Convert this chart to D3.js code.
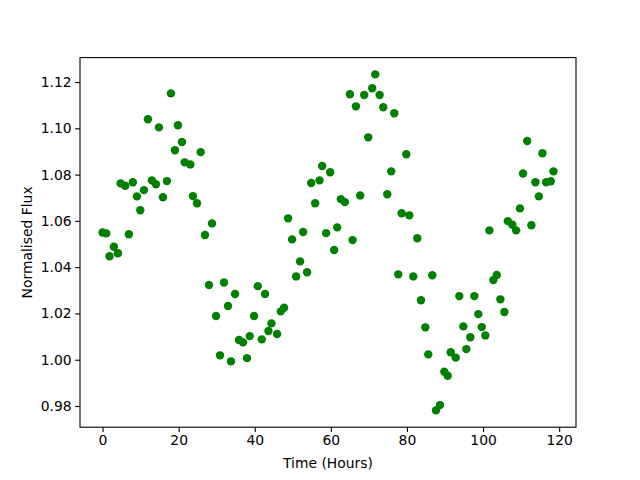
<!DOCTYPE html>
<html>
<head>
<meta charset="utf-8">
<script src="https://cdn.jsdelivr.net/npm/d3@7"></script>
<style>
  body { margin: 0; background: #fff; }
  text { font-family: "DejaVu Sans", sans-serif; }
</style>
</head>
<body>
<script>
// observation times (hours)
var times = [0, 0.97, 1.84, 2.97, 4.03, 4.74, 5.97, 6.92, 7.97, 9.03, 9.92, 10.87, 11.92, 12.97, 14.03, 14.82,
  15.87, 16.92, 17.97, 19.03, 19.82, 20.87, 21.58, 23.08, 23.76, 24.82, 25.79, 26.92, 27.97, 28.76, 29.82, 30.87,
  31.92, 32.97, 33.76, 34.82, 35.87, 36.92, 37.97, 38.68, 39.82, 40.79, 41.84, 42.71, 43.6, 44.39, 45.87, 46.84,
  47.71, 48.76, 49.82, 50.87, 51.92, 52.71, 53.76, 54.82, 55.87, 57.03, 57.71, 58.76, 59.82, 60.87, 61.66, 62.63,
  63.68, 65, 65.71, 66.58, 67.71, 68.76, 69.82, 70.87, 71.66, 72.82, 73.76, 74.82, 75.87, 76.66, 77.71, 78.6,
  79.82, 80.61, 81.66, 82.71, 83.68, 84.82, 85.6, 86.66, 87.63, 88.68, 89.82, 90.71, 91.5, 92.8, 93.76, 94.82,
  95.61, 96.66, 97.71, 98.76, 99.66, 100.61, 101.66, 102.7, 103.6, 104.55, 105.6, 106.5, 107.71, 108.68, 109.7,
  110.5, 111.6, 112.7, 113.76, 114.66, 115.6, 116.58, 117.8, 118.5];

// normalised flux
var flux = [1.0550, 1.0546, 1.0447, 1.0488, 1.0460, 1.0762, 1.0752, 1.0542, 1.0767, 1.0706, 1.0646, 1.0733, 1.1039, 1.0775, 1.0758, 1.1004,
  1.0702, 1.0772, 1.1151, 1.0905, 1.1013, 1.0941, 1.0853, 1.0844, 1.0707, 1.0676, 1.0897, 1.0539, 1.0323, 1.0589, 1.0189, 1.0019,
  1.0334, 1.0232, 0.9993, 1.0284, 1.0085, 1.0075, 1.0007, 1.0102, 1.0189, 1.0318, 1.0088, 1.0284, 1.0124, 1.0157, 1.0111, 1.0209,
  1.0225, 1.0611, 1.0520, 1.0360, 1.0425, 1.0552, 1.0378, 1.0764, 1.0676, 1.0775, 1.0837, 1.0547, 1.0810, 1.0474, 1.0572, 1.0694,
  1.0681, 1.1147, 1.0517, 1.1095, 1.0710, 1.1144, 1.0961, 1.1173, 1.1233, 1.1144, 1.1091, 1.0715, 1.0814, 1.1065, 1.0369, 1.0633,
  1.0888, 1.0624, 1.0360, 1.0525, 1.0257, 1.0140, 1.0023, 1.0365, 0.9781, 0.9804, 0.9948, 0.9931, 1.0032, 1.0009, 1.0275, 1.0144,
  1.0046, 1.0097, 1.0275, 1.0197, 1.0141, 1.0105, 1.0559, 1.0344, 1.0366, 1.0261, 1.0206, 1.0599, 1.0583, 1.0559, 1.0654,
  1.0805, 1.0945, 1.0581, 1.0767, 1.0706, 1.0892, 1.0767, 1.0771, 1.0814];

var xTicks = [0, 20, 40, 60, 80, 100, 120];
var yTicks = [0.98, 1.00, 1.02, 1.04, 1.06, 1.08, 1.10, 1.12];

var width = 640, height = 480;
var plotLeft = 80, plotRight = 576, plotTop = 57.6, plotBottom = 427.2;

var svg = d3.select('body')
  .append('svg')
  .attr('width', width)
  .attr('height', height);

// matplotlib style 5% margins
var xExt = d3.extent(times), yExt = d3.extent(flux);
var xPad = (xExt[1] - xExt[0]) * 0.05, yPad = (yExt[1] - yExt[0]) * 0.05;

var x = d3.scaleLinear().domain([xExt[0] - xPad, xExt[1] + xPad]).range([plotLeft, plotRight]);
var y = d3.scaleLinear().domain([yExt[0] - yPad, yExt[1] + yPad]).range([plotBottom, plotTop]);

// Points
svg.selectAll('circle')
  .data(times)
  .enter().append('circle')
  .attr('cx', function(d, i) { return x(d); })
  .attr('cy', function(d, i) { return y(flux[i]); })
  .attr('r', 4.2)
  .attr('fill', '#008000');

// Axes
var xAxis = d3.axisBottom(x).tickValues(xTicks).tickSize(4.9).tickPadding(3.5)
  .tickFormat(d3.format('d'));
var yAxis = d3.axisLeft(y).tickValues(yTicks).tickSize(4.9).tickPadding(3.5)
  .tickFormat(d3.format('.2f'));

var gx = svg.append('g').attr('transform', 'translate(0,' + plotBottom + ')').call(xAxis);
var gy = svg.append('g').attr('transform', 'translate(' + plotLeft + ',0)').call(yAxis);

[gx, gy].forEach(function(g) {
  g.select('.domain').remove();
  g.selectAll('.tick line').attr('stroke', '#000').attr('stroke-width', 1.1);
  g.selectAll('.tick text').attr('fill', '#000').attr('font-size', '13.9px')
    .attr('font-family', '"DejaVu Sans", sans-serif');
});

// Frame
svg.append('rect')
  .attr('x', plotLeft)
  .attr('y', plotTop)
  .attr('width', plotRight - plotLeft)
  .attr('height', plotBottom - plotTop)
  .attr('fill', 'none')
  .attr('stroke', '#000')
  .attr('stroke-width', 1.1);

// Labels
svg.append('text')
  .attr('x', (plotLeft + plotRight) / 2)
  .attr('y', 468)
  .attr('text-anchor', 'middle')
  .attr('font-size', '13.9px')
  .text('Time (Hours)');

svg.append('text')
  .attr('transform', 'translate(32,' + ((plotTop + plotBottom) / 2) + ') rotate(-90)')
  .attr('text-anchor', 'middle')
  .attr('font-size', '13.9px')
  .text('Normalised Flux');
</script>
</body>
</html>
